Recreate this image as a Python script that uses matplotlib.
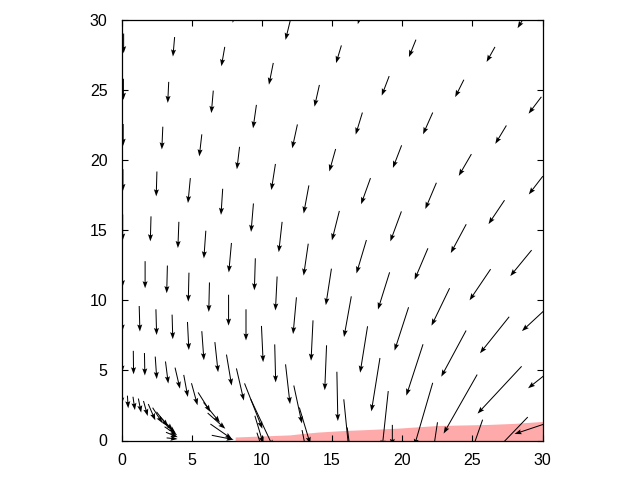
import numpy as np
import matplotlib.pyplot as plt

plt.rcParams['font.family'] = ['Liberation Sans', 'DejaVu Sans']

# sample points sit on arcs: radius = arc number * r_step,
# angle = ang_start - k * ang_step (deg)
r_step = 3.222
ang_start = 89.7
ang_step = 7.2

# vector components, one list per arc, first entry is k = k0
k0 = {1: 0, 2: 0, 3: 0, 4: 0, 5: 0, 6: 0, 7: 0, 8: 0, 9: 0, 10: 2, 11: 4, 12: 6, 13: 6}

u1 = [0.0, 0.06, 0.14, 0.2, 0.3, 0.5, 0.7, 0.82, 0.93, 0.93, 0.89, 0.84, 0.78]
v1 = [-0.65, -0.9, -0.95, -1.0, -1.07, -1.16, -1.1, -1.05, -0.98, -0.82, -0.6, -0.35, -0.08]
u2 = [0.0, 0.02, 0.03, 0.11, 0.2, 0.35, 0.29, 0.43, 0.88, 1.17, 1.26, 1.54, 1.56]
v2 = [-1.6, -1.67, -1.6, -1.6, -1.57, -1.5, -1.57, -1.57, -1.39, -1.44, -1.12, -1.07, -0.31]
u3 = [0.0, 0.05, 0.05, 0.05, 0.1, 0.15, 0.23, 0.37, 0.53, 1.27, 1.6, 0.6, 0.4]
v3 = [-1.9, -1.82, -1.83, -1.75, -2.0, -2.07, -2.14, -2.21, -2.29, -3.23, -3.4, -2.0, -1.2]
u4 = [0.0, 0.0, -0.05, -0.05, -0.05, 0.0, 0.0, 0.12, 0.07, 0.32, 0.58, 0.78, 0.3]
v4 = [-1.96, -1.93, -1.97, -2.07, -2.1, -2.2, -2.22, -2.58, -2.71, -2.83, -2.7, -2.6, -1.5]
u5 = [0.0, -0.05, -0.07, -0.14, -0.19, -0.07, -0.12, -0.24, -0.14, -0.13, 0.07, 0.35, 0.2]
v5 = [-1.86, -1.78, -1.87, -1.97, -2.1, -2.28, -2.42, -2.62, -2.88, -3.2, -3.51, -3.5, -1.5]
u6 = [0.0, -0.05, -0.17, -0.12, -0.17, -0.24, -0.33, -0.4, -0.52, -0.53, -0.61, -0.43, 0.0]
v6 = [-1.55, -1.77, -1.78, -1.86, -2.03, -2.16, -2.27, -2.6, -2.9, -3.31, -3.8, -4.0, -1.5]
u7 = [0.0, -0.07, -0.18, -0.19, -0.29, -0.37, -0.53, -0.71, -0.83, -1.0, -1.19, -1.31, -0.3]
v7 = [-1.55, -1.62, -1.57, -1.6, -1.86, -2.0, -2.1, -2.38, -2.65, -3.09, -3.66, -4.5, -2.0]
u8 = [0.0, -0.07, -0.14, -0.24, -0.37, -0.45, -0.67, -0.79, -0.95, -1.29, -1.77, -2.39, -1.26]
v8 = [-1.5, -1.5, -1.6, -1.67, -1.7, -1.6, -1.86, -2.14, -2.24, -2.67, -3.29, -4.2, -3.6]
u9 = [0.0, -0.12, -0.24, -0.31, -0.35, -0.48, -0.62, -0.79, -1.1, -1.5, -2.08, -3.14, -2.6]
v9 = [-1.4, -1.39, -1.38, -1.55, -1.55, -1.57, -1.61, -1.87, -2.05, -2.22, -2.6, -3.37, -2.7]
u10 = [-0.25, -0.33, -0.38, -0.53, -0.69, -0.9, -1.14, -1.52, -2.16, -2.71, -4.16]
v10 = [-1.4, -1.35, -1.26, -1.39, -1.55, -1.55, -1.7, -1.85, -2.0, -2.15, -1.39]
u11 = [-0.4, -0.5, -0.62, -0.79, -1.0]
v11 = [-1.3, -1.24, -1.24, -1.31, -1.3]
u12 = [-0.6, -0.91]
v12 = [-1.07, -1.2]
u13 = [-0.61]
v13 = [-1.0]

# shaded band along the bottom
band_x = [8.1, 12.0, 12.7, 14.0, 15.8, 17.5, 19.7, 22.5, 26.0, 28.0, 30.0]
band_top = [0.25, 0.4, 0.48, 0.6, 0.71, 0.78, 0.88, 1.07, 1.14, 1.22, 1.36]

us = [u1, u2, u3, u4, u5, u6, u7, u8, u9, u10, u11, u12, u13]
vs = [v1, v2, v3, v4, v5, v6, v7, v8, v9, v10, v11, v12, v13]

X, Y, U, V = [], [], [], []
for i, (uu, vv) in enumerate(zip(us, vs), start=1):
    r = i * r_step
    for j, (a, b) in enumerate(zip(uu, vv)):
        th = np.deg2rad(ang_start - (k0[i] + j) * ang_step)
        X.append(r * np.cos(th))
        Y.append(r * np.sin(th))
        U.append(a)
        V.append(b)

fig = plt.figure(figsize=(6.4, 4.8), dpi=100)
ax = fig.add_axes([121.5 / 640, 39.5 / 480, 421 / 640, 421 / 480])

ax.fill_between(band_x, 0, band_top, color='#ffaaaa', lw=0, zorder=1)
ax.quiver(X, Y, U, V, angles='xy', scale_units='xy', scale=1,
          width=0.0024, headwidth=5, headlength=7, headaxislength=6,
          color='black', zorder=3)

ax.set_xlim(0, 30)
ax.set_ylim(0, 30)
ax.set_xticks(range(0, 31, 5))
ax.set_yticks(range(0, 31, 5))
ax.tick_params(direction='in', length=4, width=0.8, top=True, right=True,
               labelsize=11.5)
ax.tick_params(axis='x', pad=9)
ax.tick_params(axis='y', pad=10)
for s in ax.spines.values():
    s.set_linewidth(0.9)
    s.set_zorder(2)

fig.savefig('out.png', dpi=100)
